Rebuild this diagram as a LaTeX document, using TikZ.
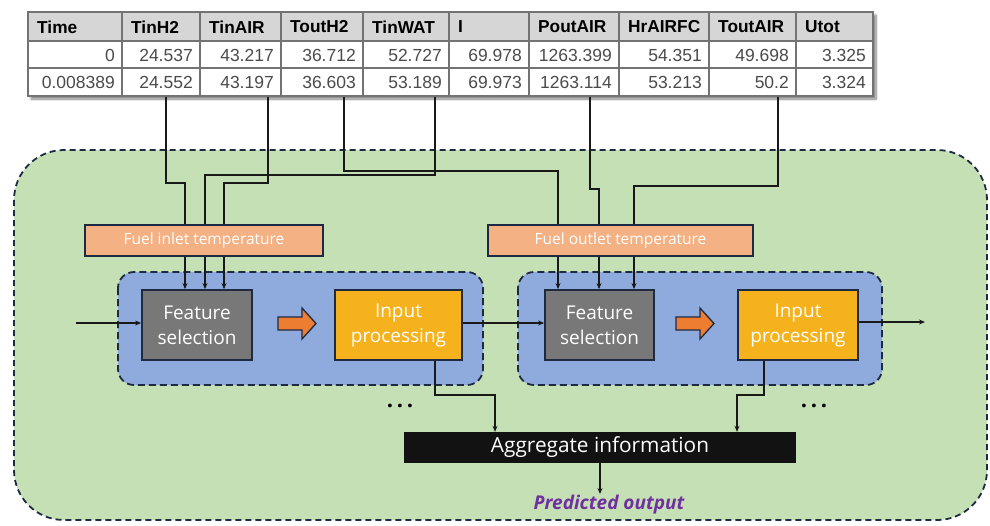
\documentclass[tikz,border=0pt]{standalone}
\usepackage{fontspec}
\setmainfont{Open Sans}
\newfontfamily\tabfont{Liberation Sans}
\usetikzlibrary{arrows.meta,shadows.blur}
\definecolor{bgGreen}{RGB}{197,224,180}
\definecolor{blueBox}{RGB}{143,170,220}
\definecolor{featGray}{RGB}{120,120,120}
\definecolor{inYellow}{RGB}{245,178,28}
\definecolor{salmon}{RGB}{244,177,131}
\definecolor{navy}{RGB}{30,42,66}
\definecolor{tabHead}{RGB}{214,214,214}
\definecolor{tabLine}{RGB}{115,115,115}
\definecolor{arrOrange}{RGB}{237,125,49}
\definecolor{purp}{RGB}{112,48,160}
\definecolor{numGray}{RGB}{75,75,75}
\tikzset{
  wire/.style={line width=1.3pt, draw=black!90},
  conn/.style={wire, -{Stealth[length=6pt,width=5pt]}},
  featbox/.style={draw=navy, line width=1.8pt, fill=featGray, text=white, align=center,
    font=\fontsize{19}{25}\selectfont, inner sep=0pt, minimum height=70pt},
  inbox/.style={featbox, fill=inYellow},
  fuelbox/.style={draw=navy, line width=1.8pt, fill=salmon, text=white,
    font=\fontsize{15.5}{17}\selectfont, inner sep=0pt, minimum height=31pt},
  aggbox/.style={fill=black!93, text=white, font=\fontsize{20.8}{24}\selectfont,
    inner sep=0pt, minimum height=31pt, minimum width=392pt},
  bluebox/.style={draw=navy, line width=1.8pt, dash pattern=on 7pt off 4pt,
    fill=blueBox, rounded corners=16pt},
  greenbox/.style={draw=navy, line width=1.8pt, dash pattern=on 6pt off 4pt,
    fill=bgGreen, rounded corners=50pt},
  bigarrow/.style={draw=navy, line width=1.3pt, fill=arrOrange},
  headtxt/.style={font=\tabfont\bfseries\fontsize{17.3}{19}\selectfont, anchor=west, inner sep=0pt},
  numtxt/.style={font=\tabfont\fontsize{17.5}{19}\selectfont, text=numGray, anchor=east, inner sep=0pt},
  dotstxt/.style={font=\bfseries\fontsize{22}{24}\selectfont, inner sep=0pt},
  predtxt/.style={font=\bfseries\itshape\fontsize{19}{22}\selectfont, text=purp, inner sep=0pt}
}
\begin{document}
\begin{tikzpicture}[x=1pt,y=-1pt]
\useasboundingbox (0,0) rectangle (990,525);
% green container
\path[greenbox] (14,150) rectangle (987,520);
% table
\path[blur shadow={shadow xshift=3pt, shadow yshift=-3pt, shadow blur steps=8, shadow opacity=50}, fill=white] (28,12) rectangle (873,96);
\fill[tabHead] (28,12) rectangle (873,41);
\foreach \x in {122,200,281,363,449,529,619,709,796}
  \draw[tabLine, line width=1.2pt] (\x,12) -- (\x,96);
\draw[tabLine, line width=1.2pt] (28,41) -- (873,41) (28,68) -- (873,68);
\draw[tabLine, line width=2.6pt] (28,12) rectangle (873,96);
\foreach \l/\r/\h/\a/\b [count=\i] in {
  28/122/Time/0/0.008389, 122/200/TinH2/24.537/24.552, 200/281/TinAIR/43.217/43.197,
  281/363/ToutH2/36.712/36.603, 363/449/TinWAT/52.727/53.189, 449/529/I/69.978/69.973,
  529/619/PoutAIR/1263.399/1263.114, 619/709/HrAIRFC/54.351/53.213,
  709/796/ToutAIR/49.698/50.2, 796/873/Utot/3.325/3.324}{
  \node[headtxt] (hd\i) at (\l+9,27) {\h};
  \node[numtxt] (ra\i) at (\r-7,55) {\a};
  \node[numtxt] (rb\i) at (\r-7,82.5) {\b};
}
% table taps
\coordinate (tTinH2) at (166,97);
\coordinate (tTinAIR) at (268,97);
\coordinate (tToutH2) at (344,97);
\coordinate (tTinWAT) at (435,97);
\coordinate (tPoutAIR) at (590,97);
\coordinate (tToutAIR) at (778,97);
% blue groups
\path[bluebox] (118,272) rectangle (483,385);
\path[bluebox] (518,272) rectangle (882,385);
% blocks
\node[featbox, minimum width=110pt] (f1) at (197,325) {Feature\\selection};
\node[inbox, minimum width=127pt] (i1) at (398.5,325) {Input\\processing};
\node[featbox, minimum width=109pt] (f2) at (599.5,325) {Feature\\selection};
\node[inbox, minimum width=120pt] (i2) at (798,325) {Input\\processing};
% wires from table
\draw[conn] (tTinH2) -- (166,183) -- (185,183) -- ([xshift=-12pt]f1.north);
\draw[conn] (tTinAIR) -- (268,183) -- (224,183) -- ([xshift=27pt]f1.north);
\draw[conn] (tTinWAT) -- (435,175) -- (205,175) -- ([xshift=8pt]f1.north);
\draw[conn] (tToutH2) -- (344,171) -- (558,171) -- ([xshift=-41.5pt]f2.north);
\draw[conn] (tPoutAIR) -- (590,189) -- (599,189) -- ([xshift=-0.5pt]f2.north);
\draw[conn] (tToutAIR) -- (778,186) -- (634,186) -- ([xshift=34.5pt]f2.north);
% fuel boxes on top of wires
\node[fuelbox, minimum width=238pt] (fin) at (204,240.5) {Fuel inlet temperature};
\node[fuelbox, minimum width=265pt] (fout) at (620.5,240.5) {Fuel outlet temperature};
% orange arrows
\draw[bigarrow] (278,317) -- (302,317) -- (302,308) -- (316,323.5) -- (302,339) -- (302,330) -- (278,330) -- cycle;
\draw[bigarrow] (676,317) -- (700,317) -- (700,308) -- (714,323.5) -- (700,339) -- (700,330) -- (676,330) -- cycle;
% flow
\coordinate (inp) at (76,323);
\coordinate (outp) at (925,322);
\draw[conn] (inp) -- (inp -| f1.west);
\draw[conn] (i1.east |- 0,323) -- (f2.west |- 0,323);
\draw[conn] (i2.east |- 0,322) -- (outp);
% aggregate
\node[aggbox] (agg) at (600,447.5) {Aggregate information};
\draw[conn] ([xshift=36.5pt]i1.south) -- (435,395) -- (495,395) -- ([xshift=-105pt]agg.north);
\draw[conn] ([xshift=-34pt]i2.south) -- (764,395) -- (737,395) -- ([xshift=137pt]agg.north);
\node[dotstxt] (d1) at (400,406) {.\,.\,.};
\node[dotstxt] (d2) at (814,406) {.\,.\,.};
\node[predtxt] (pred) at (609,505) {Predicted output};
\draw[conn] (agg.south) -- (agg.south |- 0,494);
\end{tikzpicture}
\end{document}
